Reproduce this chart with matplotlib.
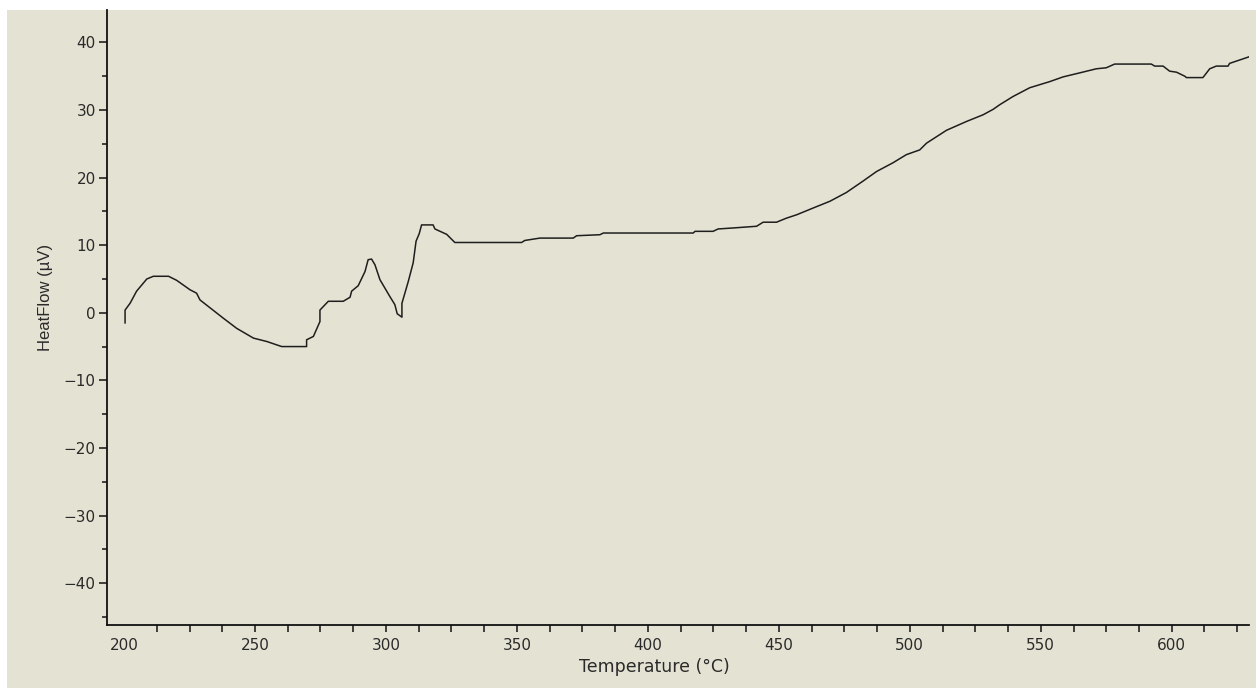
import matplotlib.pyplot as plt
from matplotlib.patches import Rectangle
from matplotlib.ticker import MultipleLocator

plt.rcParams['font.family'] = ['DejaVu Sans']

# DTA trace (temperature in °C, heat flow in µV)
temperature = [200.4, 200.4, 202.3, 204.8, 208.7, 211.2, 217.0, 220.1, 225.2, 227.7, 229.0,
               237.9, 243.0, 249.4, 254.5, 260.2, 269.7, 269.7, 272.3, 274.8, 274.8, 278.0,
               283.7, 286.3, 286.9, 289.4, 292.0, 293.2, 294.5, 295.8, 297.7, 301.5, 303.4,
               304.3, 306.1, 306.1, 308.5, 310.4, 311.5, 312.7, 313.6, 318.0, 318.7, 323.2,
               326.3, 351.8, 353.0, 358.8, 371.5, 372.8, 381.7, 383.0, 417.3, 418.0, 424.9,
               426.8, 432.6, 441.5, 444.0, 449.1, 452.9, 456.8, 463.1, 469.5, 475.8, 482.2,
               487.3, 493.6, 498.7, 503.8, 506.4, 514.0, 521.6, 528.0, 531.8, 534.4, 539.4,
               545.8, 553.4, 558.5, 564.9, 571.2, 575.0, 578.2, 592.2, 593.5, 596.7, 599.2,
               601.8, 605.0, 605.6, 611.9, 614.5, 617.0, 621.5, 622.1, 632.0]
heat_flow = [-1.5, 0.4, 1.4, 3.2, 5.0, 5.4, 5.4, 4.8, 3.4, 2.9, 1.9,
             -0.8, -2.3, -3.75, -4.25, -5.0, -5.0, -4.0, -3.5, -1.3, 0.4, 1.7,
             1.7, 2.3, 3.2, 4.0, 6.1, 7.85, 7.95, 7.1, 4.9, 2.4, 1.2,
             -0.15, -0.65, 1.4, 4.6, 7.4, 10.6, 11.7, 13.0, 13.0, 12.4, 11.6,
             10.4, 10.4, 10.7, 11.05, 11.05, 11.4, 11.55, 11.8, 11.8, 12.05, 12.05,
             12.4, 12.55, 12.8, 13.4, 13.4, 14.0, 14.5, 15.5, 16.5, 17.8, 19.5,
             20.9, 22.2, 23.4, 24.1, 25.1, 27.0, 28.3, 29.3, 30.1, 30.8, 32.0,
             33.3, 34.2, 34.9, 35.5, 36.1, 36.25, 36.8, 36.8, 36.5, 36.5, 35.75,
             35.6, 35.0, 34.8, 34.8, 36.1, 36.5, 36.5, 36.9, 38.2]

x_ticks = [200, 250, 300, 350, 400, 450, 500, 550, 600]
y_ticks = [-40, -30, -20, -10, 0, 10, 20, 30, 40]

bg = '#e4e3d3'
txt = '#2a2a2a'

fig = plt.figure(figsize=(12.56, 6.90), dpi=100, facecolor='white')
fig.add_artist(Rectangle((7 / 1256, 2 / 690), 1 - 7 / 1256, 678 / 690,
                         transform=fig.transFigure, facecolor=bg,
                         edgecolor='none', zorder=-10))

ax = fig.add_axes([107 / 1256, 65 / 690, 1142 / 1256, 615 / 690])
ax.set_facecolor(bg)

ax.plot(temperature, heat_flow, color='#1e1e1e', linewidth=1.1)

ax.set_xlim(193.5, 629.5)
ax.set_ylim(-46.2, 44.8)

ax.set_xticks(x_ticks)
ax.set_yticks(y_ticks)
ax.xaxis.set_minor_locator(MultipleLocator(12.5))
ax.yaxis.set_minor_locator(MultipleLocator(5))

for s in ['top', 'right']:
    ax.spines[s].set_visible(False)
for s in ['left', 'bottom']:
    ax.spines[s].set_linewidth(1.3)
    ax.spines[s].set_color('#111111')

ax.tick_params(axis='x', which='both', direction='out', length=5, width=1.1,
               color='#111111', labelsize=11, labelcolor=txt, pad=4)
ax.tick_params(axis='y', which='major', direction='out', length=6, width=1.1,
               color='#111111', labelsize=11, labelcolor=txt, pad=2)
ax.tick_params(axis='y', which='minor', direction='out', length=3.5, width=1.1,
               color='#111111')
# the original has no tick mark at 200, only the label
ax.xaxis.get_major_ticks()[0].tick1line.set_visible(False)

ax.set_xlabel('Temperature (°C)', fontsize=12.5, color=txt)
ax.set_ylabel('HeatFlow (µV)', fontsize=12, color=txt, family='Liberation Sans')
ax.xaxis.set_label_coords(0.479, -0.053)
ax.yaxis.set_label_coords(-0.047, 0.533)

fig.savefig('out.png', dpi=100, facecolor='white')
